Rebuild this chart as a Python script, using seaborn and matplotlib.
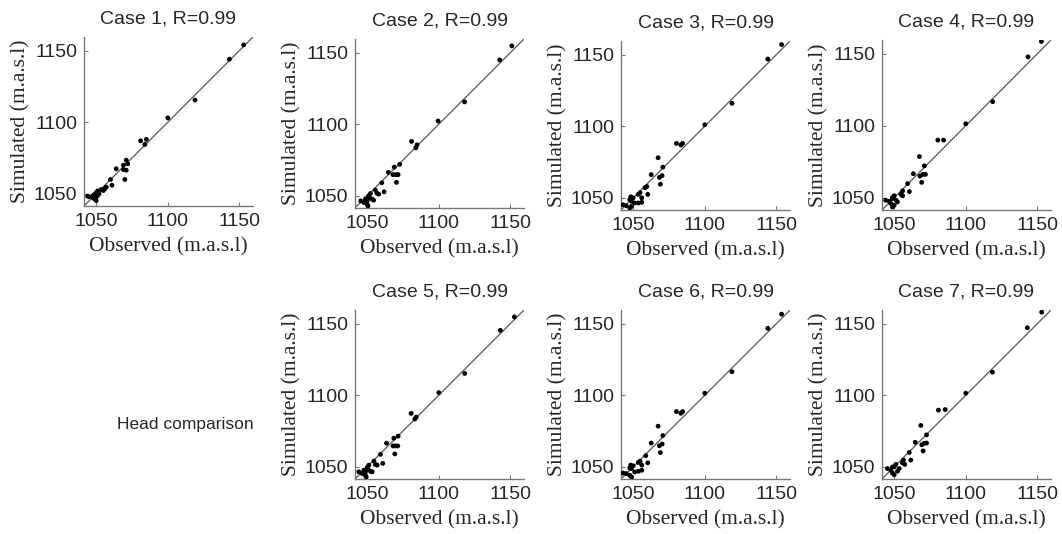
import matplotlib
matplotlib.use("Agg")
import matplotlib.pyplot as plt
import seaborn as sns
import pandas as pd

sns.set_style("ticks")
plt.rcParams['font.family'] = ['Liberation Sans', 'DejaVu Sans']

# Observed vs simulated heads for each case (m.a.s.l)
case_names = ["Case 1", "Case 2", "Case 3", "Case 4", "Case 5", "Case 6", "Case 7"]
r_values = [0.99, 0.99, 0.99, 0.99, 0.99, 0.99, 0.99]

obs1 = [1153, 1143, 1119, 1100, 1081, 1085, 1084, 1071, 1069, 1072,
        1069, 1071, 1070, 1064, 1060, 1061, 1057, 1056, 1053.5, 1051,
        1050, 1049, 1048, 1045, 1044, 1050, 1049, 1050, 1051, 1052,
        1055, 1048]
sim1 = [1154, 1144, 1115.5, 1103, 1087, 1088, 1084.5, 1073.5, 1070, 1071,
        1067, 1066.5, 1060, 1067.5, 1060, 1056, 1054.7, 1053.5, 1053, 1052,
        1050.7, 1049.5, 1049, 1048, 1048.4, 1047.6, 1046.5, 1045.3, 1049, 1050,
        1052.3, 1047]

obs2 = [1151, 1142.5, 1118, 1099.5, 1081, 1084.8, 1084, 1072.7, 1068.9, 1070,
        1071.6, 1068, 1070.5, 1064.8, 1060.2, 1061.8, 1055.7, 1056.8, 1058, 1052.3,
        1051, 1048.9, 1050, 1045.5, 1047.7, 1050, 1050.5, 1053.4, 1054.5, 1051.6]
sim2 = [1154.7, 1144.9, 1115.6, 1102.2, 1088, 1085.6, 1083.5, 1072, 1070, 1064.8,
        1064.8, 1064.8, 1059.4, 1066.4, 1059.1, 1052.8, 1054, 1051.9, 1051.2, 1051.6,
        1050, 1048, 1046.5, 1046.5, 1045.3, 1044, 1043, 1047.7, 1047, 1048.8]

obs3 = [1153.6, 1144, 1119, 1100, 1080.2, 1083.3, 1084.5, 1067.4, 1070.7, 1070.2,
        1068.3, 1069, 1062.6, 1059.5, 1058.3, 1060.2, 1054.8, 1053.6, 1056, 1048.3,
        1047.6, 1048.8, 1042.9, 1045.2, 1047.6, 1048.8, 1051, 1053.6, 1056, 1050]
sim3 = [1157, 1146.9, 1116, 1101, 1088, 1086.9, 1088, 1078, 1071.4, 1065.5,
        1064.3, 1059.5, 1066.2, 1057.9, 1057.1, 1052.4, 1053.6, 1052.4, 1050, 1050.7,
        1048.8, 1047.6, 1045.2, 1044.5, 1042.9, 1044, 1046.4, 1046.4, 1046.9, 1050]

obs4 = [1152.8, 1143.5, 1118.8, 1100, 1080.5, 1084.5, 1067.6, 1071.1, 1070, 1068,
        1071.8, 1069.2, 1063.4, 1059.4, 1060.6, 1055.9, 1054.7, 1055.9, 1050, 1048.8,
        1044.1, 1046.5, 1047.7, 1048.8, 1050, 1052.3, 1048.8, 1051.2]
sim4 = [1158.5, 1147.8, 1116.7, 1101.4, 1090, 1090, 1078.6, 1072.1, 1066.2, 1065,
        1066.2, 1060.7, 1066.7, 1059.8, 1054.3, 1054.8, 1052.4, 1051.4, 1051.4, 1050.2,
        1048.3, 1047.6, 1046, 1043.6, 1044.8, 1047.1, 1049.5, 1048.3]

obs5 = [1152.8, 1143, 1118.1, 1100, 1080.7, 1084.2, 1083.3, 1071.6, 1068.6, 1069.8,
        1071.4, 1068.1, 1069.3, 1063.5, 1059.3, 1060.9, 1054.7, 1055.8, 1057, 1051.2,
        1050, 1047.7, 1048.8, 1044.2, 1046.5, 1048.8, 1049.3, 1052.3, 1053.5, 1050.7]
sim5 = [1154.7, 1145.3, 1115.2, 1101.8, 1087.3, 1084.7, 1083.4, 1071.4, 1070, 1064.6,
        1064.6, 1064.6, 1059, 1066.5, 1058.7, 1052.4, 1054, 1051.6, 1051.2, 1051.2,
        1049.5, 1047.6, 1046.5, 1046.5, 1045.3, 1044.1, 1042.9, 1046.9, 1046.5, 1048.2]

obs6 = [1153.6, 1144, 1119, 1100, 1080.2, 1083.3, 1084.5, 1067.4, 1070.7, 1070.2,
        1068.3, 1069, 1062.6, 1058.8, 1060.2, 1054.8, 1053.6, 1056, 1048.3, 1047.6,
        1048.8, 1042.9, 1045.2, 1047.6, 1048.8, 1051, 1053.6, 1056, 1050]
sim6 = [1156.6, 1146.7, 1116.4, 1101.4, 1088.6, 1087.4, 1088.6, 1078.4, 1071.8, 1065.9,
        1064.7, 1060, 1066.6, 1057.8, 1052.8, 1054, 1053, 1051.2, 1051.2, 1049.3,
        1048.8, 1045.7, 1045.3, 1044.1, 1042.9, 1046.4, 1046.9, 1047.6, 1050.7]

obs7 = [1153, 1143, 1118.6, 1100, 1080.9, 1085.6, 1068.6, 1072.6, 1070.9, 1069.3,
        1072.6, 1070.2, 1064.7, 1060.5, 1061.6, 1056.5, 1055.8, 1057.4, 1051.2, 1050,
        1045.3, 1047.7, 1048.8, 1050, 1052.3, 1048.8, 1053.5]
sim7 = [1158, 1147.1, 1116.1, 1101.4, 1089.6, 1090, 1078.9, 1072.3, 1066.4, 1065.4,
        1066.6, 1061.1, 1067.1, 1060, 1054.7, 1054.7, 1052.8, 1051.7, 1051.7, 1050,
        1048.8, 1047.6, 1045.7, 1044.5, 1046.9, 1049.8, 1048.8]

observed = [obs1, obs2, obs3, obs4, obs5, obs6, obs7]
simulated = [sim1, sim2, sim3, sim4, sim5, sim6, sim7]

axis_min, axis_max = 1041.5, 1159.5
ticks = [1050, 1100, 1150]

# panel boxes in pixels: left, top, bottom
W, H = 1062, 534
boxes = [(84, 37, 206), (355, 39, 208), (621, 41, 210), (882, 40, 210),
         (355, 310, 479), (621, 310, 479), (882, 310, 479)]
pw = 169

fig = plt.figure(figsize=(W / 100, H / 100), dpi=100)

for i, (left, top, bottom) in enumerate(boxes):
    ax = fig.add_axes([left / W, 1 - bottom / H, pw / W, (bottom - top) / H])
    df = pd.DataFrame({'obs': observed[i], 'sim': simulated[i]})
    line_df = pd.DataFrame({'x': [axis_min, axis_max], 'y': [axis_min, axis_max]})
    sns.lineplot(data=line_df, x='x', y='y', ax=ax, color='#555555', linewidth=0.9)
    sns.scatterplot(data=df, x='obs', y='sim', ax=ax, color='black', s=12,
                    edgecolor='none', zorder=3)
    ax.set_xlim(axis_min, axis_max)
    ax.set_ylim(axis_min, axis_max)
    ax.set_xticks(ticks)
    ax.set_yticks(ticks)
    ax.tick_params(direction='in', length=3, labelsize=14, color='#777777', pad=5)
    for side in ['top', 'right']:
        ax.spines[side].set_visible(False)
    for side in ['left', 'bottom']:
        ax.spines[side].set_color('#777777')
        ax.spines[side].set_linewidth(1.0)
    ax.set_title(f"{case_names[i]}, R={r_values[i]:.2f}", fontsize=14, pad=10)
    ax.set_xlabel("Observed (m.a.s.l)", fontsize=15.5, family=['Liberation Serif'], labelpad=5)
    ax.set_ylabel("Simulated (m.a.s.l)", fontsize=15.5, family=['Liberation Serif'], labelpad=2)

fig.text(185 / W, 1 - 425 / H, "Head comparison", fontsize=12.5, ha='center', va='center')

fig.savefig("out.png", dpi=100)
